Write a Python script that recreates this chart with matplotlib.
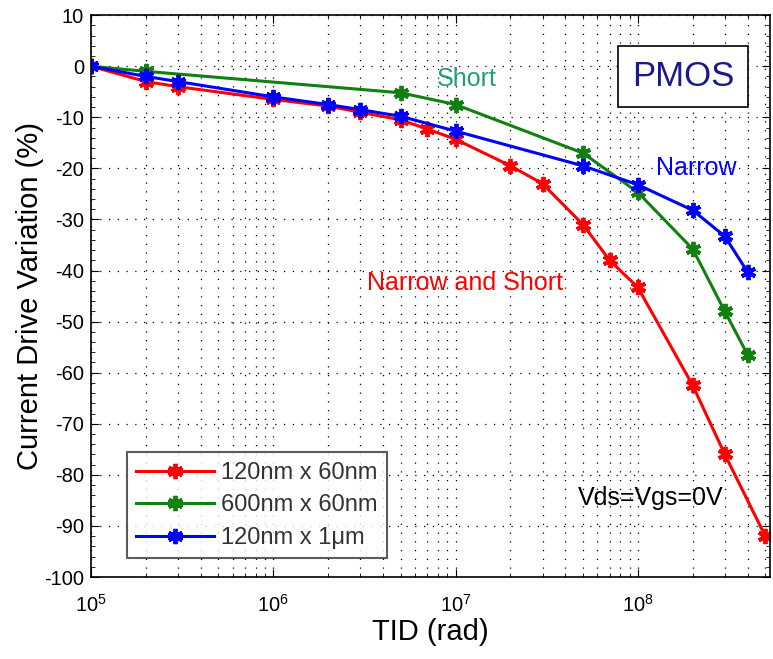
import matplotlib
matplotlib.use("Agg")
import matplotlib.pyplot as plt
from matplotlib.ticker import LogLocator, MultipleLocator, NullFormatter

plt.rcParams['font.family'] = ['Liberation Sans', 'DejaVu Sans']
plt.rcParams['mathtext.default'] = 'regular'
plt.rcParams['axes.unicode_minus'] = False

# data (TID in rad, variation in %)
tid_red = [1e5, 2e5, 3e5, 1e6, 2e6, 3e6, 5e6, 7e6, 1e7, 2e7, 3e7, 5e7, 7e7, 1e8, 2e8, 3e8, 5e8]
var_red = [0, -3, -4, -6.5, -7.8, -9, -10.5, -12.3, -14.3, -19.5, -23, -31, -38, -43.3, -62.5, -76, -92]

tid_green = [1e5, 2e5, 5e6, 1e7, 5e7, 1e8, 2e8, 3e8, 4e8]
var_green = [0, -1, -5.2, -7.5, -17, -24.7, -35.8, -48, -56.5]

tid_blue = [1e5, 2e5, 3e5, 1e6, 2e6, 3e6, 5e6, 1e7, 5e7, 1e8, 2e8, 3e8, 4e8]
var_blue = [0, -2, -3, -6, -7.5, -8.5, -9.8, -12.7, -19.5, -23.2, -28.2, -33.3, -40.3]

labels = ['120nm x 60nm', '600nm x 60nm', '120nm x 1\u03bcm']
colors = ['#ff0000', '#108010', '#0000ff']

fig = plt.figure(figsize=(7.73, 6.59), dpi=100)
ax = fig.add_axes([0.1177, 0.1244, 0.8783, 0.8526])

star = (6, 2, 0)
for x, y, lab, c in zip([tid_red, tid_green, tid_blue],
                        [var_red, var_green, var_blue], labels, colors):
    ax.plot(x, y, color=c, lw=2.2, marker=star, ms=11, mew=2.8, label=lab)

ax.set_xscale('log')
ax.set_xlim(1e5, 5.3e8)
ax.set_ylim(-100, 10)
ax.yaxis.set_major_locator(MultipleLocator(10))
ax.yaxis.set_minor_locator(MultipleLocator(2))
ax.xaxis.set_major_locator(LogLocator(base=10, numticks=10))
ax.xaxis.set_minor_locator(LogLocator(base=10, subs=range(2, 10), numticks=20))
ax.xaxis.set_minor_formatter(NullFormatter())

ax.grid(True, which='major', color='black', linestyle=(0, (1, 6)), lw=0.9)
ax.grid(True, which='minor', axis='x', color='black', linestyle=(0, (1, 6)), lw=0.9)
ax.tick_params(direction='in', which='both', top=True, right=True, labelsize=14.5)
ax.tick_params(which='major', length=6)
ax.tick_params(which='minor', length=3)
ax.tick_params(axis='x', pad=12)
ax.tick_params(axis='y', pad=5)
for s in ax.spines.values():
    s.set_linewidth(1.2)

ax.set_xlabel('TID (rad)', fontsize=21, labelpad=2)
ax.set_ylabel('Current Drive Variation (%)', fontsize=21, labelpad=0)

ax.text(0.51, 0.886, 'Short', transform=ax.transAxes, color='#1f9e78', fontsize=18, va='center')
ax.text(0.832, 0.728, 'Narrow', transform=ax.transAxes, color='#0000ff', fontsize=18, va='center')
ax.text(0.406, 0.523, 'Narrow and Short', transform=ax.transAxes, color='#ff0000',
        fontsize=18, va='center')
ax.text(0.717, 0.141, 'Vds=Vgs=0V', transform=ax.transAxes, color='black', fontsize=18,
        va='center')
ax.text(0.872, 0.891, 'PMOS', transform=ax.transAxes, color='#1a1a8c', fontsize=25,
        ha='center', va='center',
        bbox=dict(boxstyle='square,pad=0.4', fc='white', ec='black', lw=1.2))

leg = ax.legend(loc='lower left', bbox_to_anchor=(0.035, 0.012), fontsize=17,
                frameon=True, fancybox=False, edgecolor='#333333',
                handlelength=3.3, borderpad=0.4, labelspacing=0.45, handletextpad=0.3)
leg.get_frame().set_linewidth(1.5)
for t in leg.get_texts():
    t.set_color('#333333')

fig.savefig('out.png', dpi=100)
